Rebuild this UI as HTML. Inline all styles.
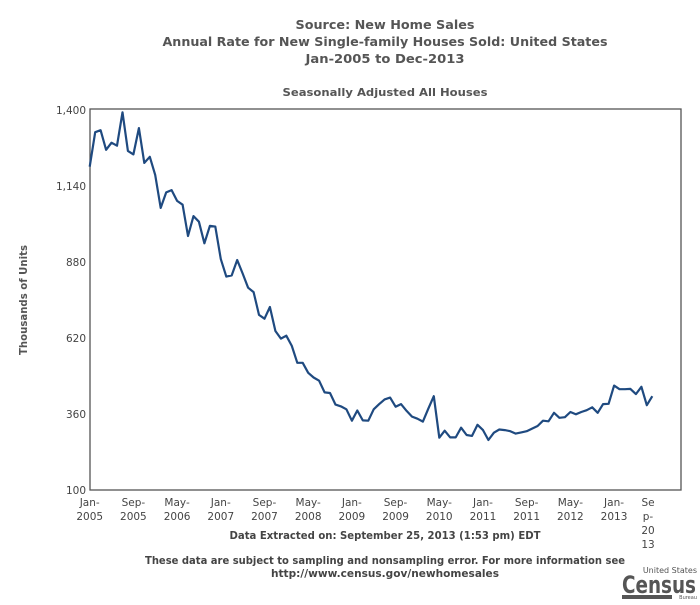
<!DOCTYPE html>
<html><head><meta charset="utf-8"><style>
body{margin:0;background:#fff;}
svg text{font-family:"DejaVu Sans","Liberation Sans",sans-serif;}
</style></head><body>
<svg width="700" height="600" xmlns="http://www.w3.org/2000/svg">
<g fill="#555" font-weight="bold" font-size="12.5" text-anchor="middle">
<text x="385" y="29" textLength="179" lengthAdjust="spacingAndGlyphs">Source: New Home Sales</text>
<text x="385" y="46" textLength="445" lengthAdjust="spacingAndGlyphs">Annual Rate for New Single-family Houses Sold: United States</text>
<text x="385" y="63" textLength="159" lengthAdjust="spacingAndGlyphs">Jan-2005 to Dec-2013</text>
<text x="385" y="96" font-size="11" textLength="205" lengthAdjust="spacingAndGlyphs">Seasonally Adjusted All Houses</text>
</g>
<rect x="90" y="109" width="591" height="381" fill="none" stroke="#555" stroke-width="1.3"/>
<text transform="translate(27,300) rotate(-90)" text-anchor="middle" font-size="10.5" font-weight="bold" fill="#555" textLength="110" lengthAdjust="spacingAndGlyphs">Thousands of Units</text>
<g id="yt" font-size="10.5" fill="#444" text-anchor="end"></g>
<g id="xt" font-size="10.5" fill="#444" text-anchor="middle"></g>
<path id="line" fill="none" stroke="#1f4a80" stroke-width="2.2" stroke-linejoin="round"/>
<text x="385" y="539" text-anchor="middle" font-size="10.5" font-weight="bold" fill="#444" textLength="311" lengthAdjust="spacingAndGlyphs">Data Extracted on: September 25, 2013 (1:53 pm) EDT</text>
<text x="385" y="564" text-anchor="middle" font-size="10.5" font-weight="bold" fill="#444" textLength="480" lengthAdjust="spacingAndGlyphs">These data are subject to sampling and nonsampling error. For more information see</text>
<text x="385" y="577" text-anchor="middle" font-size="10.5" font-weight="bold" fill="#444" textLength="228" lengthAdjust="spacingAndGlyphs">http://www.census.gov/newhomesales</text>
<g fill="#555">
<text x="697" y="573" text-anchor="end" font-size="8">United States</text>
<text x="696" y="593" text-anchor="end" font-size="24" font-weight="bold" textLength="74" lengthAdjust="spacingAndGlyphs">Census</text>
<rect x="622" y="595" width="50" height="4"/>
<text x="697" y="599" text-anchor="end" font-size="5">Bureau</text>
</g>
</svg>
<script>
const values=[1206,1324,1331,1264,1288,1278,1392,1260,1248,1338,1219,1240,
1178,1065,1118,1126,1089,1076,969,1037,1018,944,1004,1001,
890,830,834,887,841,792,777,699,686,726,644,618,
628,593,535,535,501,485,474,434,432,392,386,376,
337,372,338,337,376,394,410,416,385,394,371,351,
344,334,378,421,279,303,280,280,313,288,285,323,
305,271,296,307,305,301,293,297,301,310,319,337,
335,364,347,349,367,359,367,373,383,364,394,395,
457,445,445,446,428,453,390,421];
const yTicks=[100,360,620,880,1140,1400];
const yTickLabels=["100","360","620","880","1,140","1,400"];
const xTickIdx=[0,8,16,24,32,40,48,56,64,72,80,88,96];
const xTickLabels=[["Jan-","2005"],["Sep-","2005"],["May-","2006"],["Jan-","2007"],["Sep-","2007"],["May-","2008"],["Jan-","2009"],["Sep-","2009"],["May-","2010"],["Jan-","2011"],["Sep-","2011"],["May-","2012"],["Jan-","2013"]];
const NS="http://www.w3.org/2000/svg";
const xs=i=>89.7+i*5.462;
const ys=v=>110+(1400-v)*380/1300;
const yt=document.getElementById('yt');
yTicks.forEach((v,k)=>{const t=document.createElementNS(NS,'text');
t.setAttribute('x',86);t.setAttribute('y',ys(v)+4);t.textContent=yTickLabels[k];


yt.appendChild(t);});
const xt=document.getElementById('xt');
xTickIdx.forEach((i,k)=>{xTickLabels[k].forEach((s,j)=>{const t=document.createElementNS(NS,'text');
t.setAttribute('x',xs(i));t.setAttribute('y',506+j*14);t.textContent=s;


xt.appendChild(t);});});
["Se","p-","20","13"].forEach((s,j)=>{const t=document.createElementNS(NS,'text');
t.setAttribute('x',648);t.setAttribute('y',506+j*14);t.textContent=s;


xt.appendChild(t);});
document.getElementById('line').setAttribute('d',values.map((v,i)=>(i?'L':'M')+xs(i).toFixed(1)+' '+ys(v).toFixed(1)).join(' '));
</script>
</body></html>
